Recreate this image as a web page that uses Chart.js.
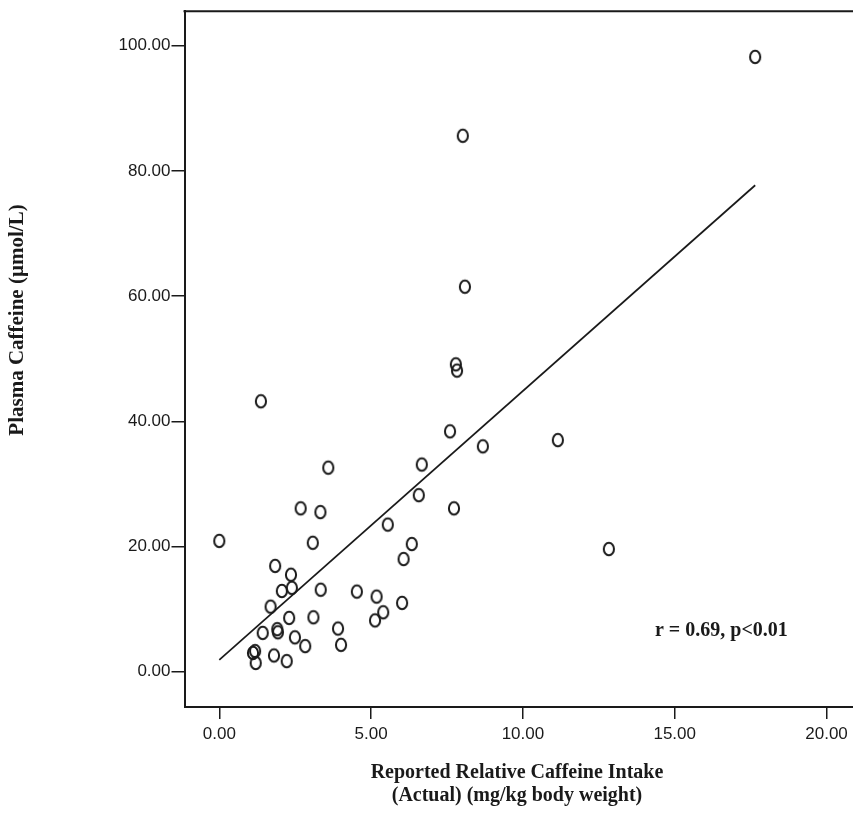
<!DOCTYPE html>
<html>
<head>
<meta charset="utf-8">
<title>Plasma Caffeine vs Reported Caffeine Intake</title>
<script src="https://cdn.jsdelivr.net/npm/chart.js@4.4.1/dist/chart.umd.min.js"></script>
<style>
    html, body { margin: 0; padding: 0; background: #ffffff; }
    #wrap { width: 853px; height: 832px; position: relative; }
</style>
</head>
<body>
<div id="wrap"><canvas id="caffeineChart" width="853" height="832"></canvas></div>
<script>
// Reported relative caffeine intake (mg/kg body weight)
const intakeValues = [17.65, 8.02, 8.09, 7.79, 7.83, 1.37, 7.60, 11.15, 8.68, 3.59,
    6.67, 6.57, 2.68, 7.73, 3.33, 5.55, 0.00, 3.08, 6.34, 12.83,
    6.07, 1.84, 2.36, 2.06, 2.39, 3.34, 4.53, 5.18, 1.69, 6.02,
    5.40, 2.30, 3.10, 5.13, 3.91, 1.91, 1.93, 1.43, 4.01, 2.49,
    2.83, 1.18, 1.11, 1.80, 1.20, 2.22];
// Plasma caffeine (umol/L)
const plasmaValues = [98.2, 85.6, 61.5, 49.1, 48.1, 43.2, 38.4, 37.0, 36.0, 32.6,
    33.1, 28.2, 26.1, 26.1, 25.5, 23.5, 20.9, 20.6, 20.4, 19.6,
    18.0, 16.9, 15.5, 12.9, 13.4, 13.1, 12.8, 12.0, 10.4, 11.0,
    9.5, 8.6, 8.7, 8.2, 6.9, 6.8, 6.3, 6.2, 4.3, 5.5,
    4.1, 3.3, 3.0, 2.6, 1.4, 1.7];

// Fitted line end points
const fitX = [0.0, 17.65];
const fitY = [1.9, 77.7];

const xTicks = [0, 5, 10, 15, 20];
const yTicks = [0, 20, 40, 60, 80, 100];

const xTitleLines = ['Reported Relative Caffeine Intake', '(Actual) (mg/kg body weight)'];
const yTitle = 'Plasma Caffeine (\u00b5mol/L)';
const statsNote = 'r = 0.69, p<0.01';

const ink = '#1a1a1a';
const serif = '"Liberation Serif", "Times New Roman", serif';

// Open, slightly tall ellipse used as the marker
function makeMarker() {
    const c = document.createElement('canvas');
    c.width = 16;
    c.height = 18;
    const g = c.getContext('2d');
    g.strokeStyle = ink;
    g.lineWidth = 2;
    g.beginPath();
    g.ellipse(8, 9, 5.1, 6.2, 0, 0, Math.PI * 2);
    g.stroke();
    return c;
}

const points = intakeValues.map((x, i) => ({ x: x, y: plasmaValues[i] }));
const fitLine = fitX.map((x, i) => ({ x: x, y: fitY[i] }));

// Frame edges running off to the right + titles and the r/p note
const decorations = {
    id: 'decorations',
    afterDraw(chart) {
        const ctx = chart.ctx;
        const area = chart.chartArea;
        const xs = chart.scales.x;
        const ys = chart.scales.y;
        ctx.save();

        ctx.strokeStyle = ink;
        ctx.lineWidth = 2;
        ctx.beginPath();
        ctx.moveTo(area.left - 1, area.top);
        ctx.lineTo(chart.width, area.top);
        ctx.moveTo(area.right - 1, area.bottom);
        ctx.lineTo(chart.width, area.bottom);
        ctx.stroke();

        ctx.fillStyle = ink;
        ctx.font = 'bold 20px ' + serif;
        ctx.textAlign = 'center';
        ctx.textBaseline = 'middle';
        ctx.fillText(xTitleLines[0], 517, 773);
        ctx.fillText(xTitleLines[1], 517, 796);

        ctx.font = 'bold 21px ' + serif;
        ctx.translate(18, 320);
        ctx.rotate(-Math.PI / 2);
        ctx.fillText(yTitle, 0, 0);
        ctx.restore();

        ctx.save();
        ctx.fillStyle = ink;
        ctx.font = 'bold 20px ' + serif;
        ctx.textAlign = 'left';
        ctx.textBaseline = 'middle';
        ctx.fillText(statsNote, xs.getPixelForValue(14.35), ys.getPixelForValue(6.6));
        ctx.restore();
    }
};

const tickFont = { family: '"Liberation Sans", Arial, sans-serif', size: 17 };

new Chart(document.getElementById('caffeineChart'), {
    type: 'scatter',
    data: {
        datasets: [{
            label: 'Subjects',
            data: points,
            pointStyle: makeMarker(),
            pointRadius: 6,
            showLine: false
        }, {
            label: 'Fit',
            type: 'line',
            data: fitLine,
            borderColor: ink,
            borderWidth: 1.7,
            pointRadius: 0,
            fill: false
        }]
    },
    options: {
        responsive: false,
        animation: false,
        layout: { padding: { top: 10.5, left: 0, right: 0, bottom: 0 } },
        plugins: {
            legend: { display: false },
            tooltip: { enabled: false }
        },
        scales: {
            x: {
                type: 'linear',
                min: -1.146,
                max: 20.62,
                afterBuildTicks: (scale) => { scale.ticks = xTicks.map(v => ({ value: v })); },
                afterFit: (scale) => { scale.height = 125; },
                ticks: {
                    color: ink,
                    font: tickFont,
                    padding: 5,
                    maxRotation: 0,
                    callback: (v) => Number(v).toFixed(2)
                },
                grid: { drawOnChartArea: false, drawTicks: true, tickLength: 12, color: ink, lineWidth: 1.5 },
                border: { display: true, color: ink, width: 2 }
            },
            y: {
                type: 'linear',
                min: -5.63,
                max: 105.5,
                afterBuildTicks: (scale) => { scale.ticks = yTicks.map(v => ({ value: v })); },
                afterFit: (scale) => { scale.width = 184.5; },
                ticks: {
                    color: ink,
                    font: tickFont,
                    padding: 1,
                    callback: (v) => Number(v).toFixed(2)
                },
                grid: { drawOnChartArea: false, drawTicks: true, tickLength: 13, color: ink, lineWidth: 1.5 },
                border: { display: true, color: ink, width: 2 }
            }
        }
    },
    plugins: [decorations]
});
</script>
</body>
</html>
